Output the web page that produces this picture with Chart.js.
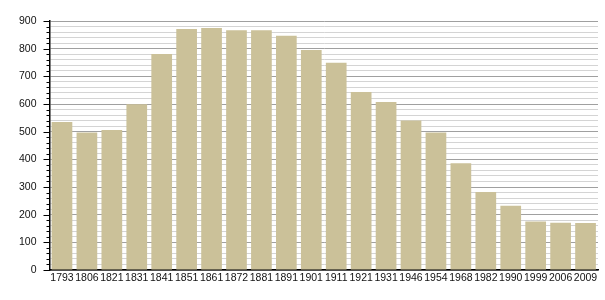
<!DOCTYPE html>
<html>
<head>
<meta charset="utf-8">
<script src="https://cdn.jsdelivr.net/npm/chart.js@4"></script>
<style>
html,body{margin:0;padding:0;background:#fff;}
#wrap{width:605px;height:300px;position:relative;}
</style>
</head>
<body>
<div id="wrap"><canvas id="c" width="605" height="300"></canvas></div>
<script>
const years = ["1793","1806","1821","1831","1841","1851","1861","1872","1881","1891","1901","1911","1921","1931","1946","1954","1968","1982","1990","1999","2006","2009"];
const population = [535,497,506,599,781,871,875,867,867,847,795,749,643,607,540,497,386,282,232,175,171,170];
const yMax = 900;
const yStep = 20;
const yLabelStep = 100;

const tickPlugin = {
  id: 'yTicks',
  afterDraw(chart) {
    const s = chart.scales.y, ctx = chart.ctx;
    ctx.save();
    ctx.strokeStyle = '#000';
    ctx.lineWidth = 1;
    s.ticks.forEach(t => {
      const y = Math.round(s.getPixelForValue(t.value)) + 0.5;
      const len = (t.value % yLabelStep === 0) ? 6 : 3;
      ctx.beginPath();
      ctx.moveTo(s.right - len, y);
      ctx.lineTo(s.right, y);
      ctx.stroke();
    });
    ctx.restore();
  }
};

new Chart(document.getElementById('c'), {
  type: 'bar',
  data: {
    labels: years,
    datasets: [{
      data: population,
      backgroundColor: 'rgb(203,193,153)',
      borderWidth: 0,
      categoryPercentage: 0.83,
      barPercentage: 1
    }]
  },
  options: {
    responsive: false,
    animation: false,
    devicePixelRatio: 1,
    layout: { padding: { top: 21, right: 7, left: 0, bottom: 0 } },
    plugins: { legend: { display: false }, tooltip: { enabled: false } },
    scales: {
      x: {
        grid: { display: false, drawTicks: false },
        border: { display: true, color: '#000', width: 1.5 },
        ticks: { color: '#111', font: { family: 'Liberation Sans', size: 10.5 }, padding: 2, maxRotation: 0, autoSkip: false },
        afterFit(s) { s.height = 30; }
      },
      y: {
        min: 0, max: yMax,
        grid: {
          drawTicks: false,
          color: ctx => (ctx.tick && ctx.tick.value % yLabelStep === 0) ? '#a0a0a0' : '#d4d4d4',
          lineWidth: 1
        },
        border: { display: true, color: '#000', width: 1.5 },
        ticks: {
          stepSize: yStep,
          autoSkip: false,
          color: '#111',
          font: { family: 'Liberation Sans', size: 10.5 },
          padding: 13,
          callback: v => (v % yLabelStep === 0) ? String(v) : ''
        },
        afterFit(s) { s.width = 49.5; }
      }
    }
  },
  plugins: [tickPlugin]
});
</script>
</body>
</html>
